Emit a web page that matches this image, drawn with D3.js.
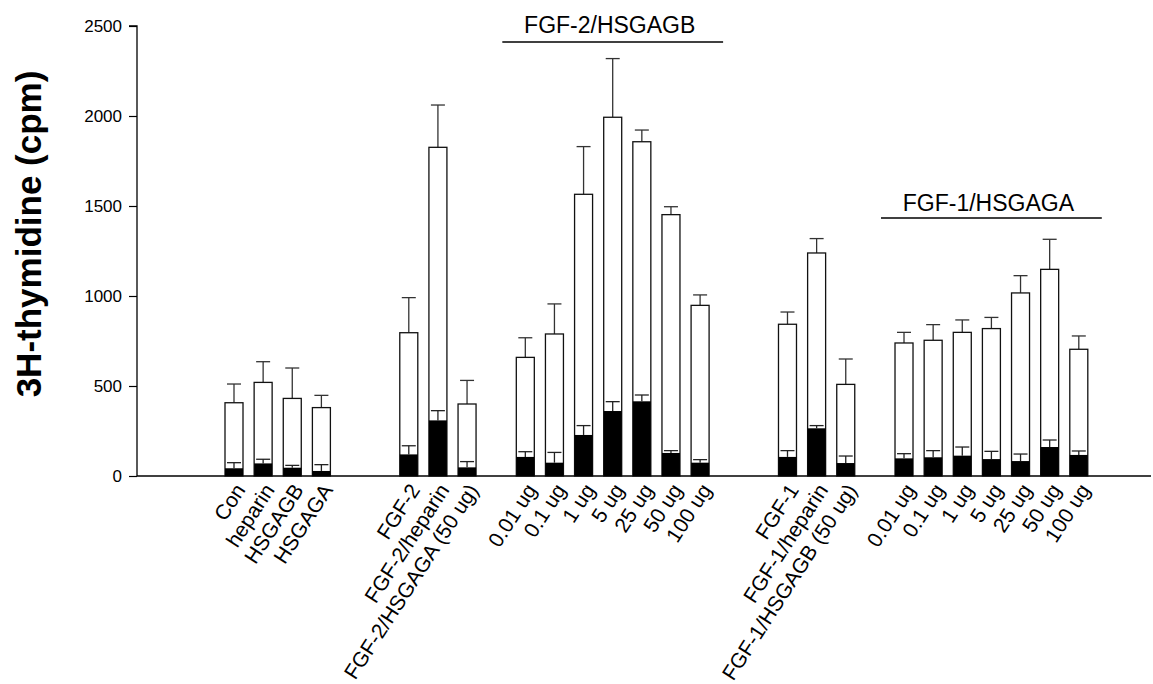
<!DOCTYPE html>
<html>
<head>
<meta charset="utf-8">
<script src="https://cdn.jsdelivr.net/npm/d3@7"></script>
<style>
  body { margin: 0; background: #fff; }
  svg text { font-family: "Liberation Sans", Arial, Helvetica, sans-serif; fill: #000; }
</style>
</head>
<body>
<svg id="chart" width="1153" height="684"></svg>
<script>
// categories and their slot on the x axis (empty slots are the gaps between groups)
const labels = ['Con', 'heparin', 'HSGAGB', 'HSGAGA',
  'FGF-2', 'FGF-2/heparin', 'FGF-2/HSGAGA (50 ug)',
  '0.01 ug', '0.1 ug', '1 ug', '5 ug', '25 ug', '50 ug', '100 ug',
  'FGF-1', 'FGF-1/heparin', 'FGF-1/HSGAGB (50 ug)',
  '0.01 ug', '0.1 ug', '1 ug', '5 ug', '25 ug', '50 ug', '100 ug']
const slots = [0, 1, 2, 3, 6, 7, 8, 10, 11, 12, 13, 14, 15, 16, 19, 20, 21, 23, 24, 25, 26, 27, 28, 29]

// open bars (mean + error) and filled bars (mean + error)
const whiteVals = [407, 520, 431, 380, 796, 1826, 400, 659, 789, 1565, 1993, 1857, 1452, 948,
  843, 1239, 509, 739, 754, 798, 819, 1017, 1148, 704]
const whiteErr = [511, 635, 600, 448, 991, 2061, 531, 768, 956, 1830, 2319, 1922, 1496, 1006,
  911, 1319, 650, 798, 841, 867, 881, 1113, 1315, 778]
const blackVals = [43, 70, 46, 28, 120, 309, 48, 106, 74, 228, 361, 415, 128, 74,
  106, 265, 72, 98, 104, 113, 94, 83, 161, 117]
const blackErr = [74, 93, 59, 63, 168, 363, 80, 135, 131, 280, 413, 450, 141, 91,
  141, 280, 111, 124, 141, 161, 137, 122, 200, 139]

const yTicks = [0, 500, 1000, 1500, 2000, 2500]
const groupTitles = [
  { text: 'FGF-2/HSGAGB', from: 10, to: 16, ty: 33, ly: 42 },
  { text: 'FGF-1/HSGAGA', from: 23, to: 29, ty: 211, ly: 218 }
]

const svg = d3.select('#chart')
const axisX = 137, y0 = 476, y1 = 26

const x = d3.scaleBand()
  .domain(d3.range(30))
  .range([225, 1087.8])
  .paddingInner(0.382)
  .paddingOuter(0)
  .align(0)

const y = d3.scaleLinear().domain([0, 2500]).range([y0, y1])

const rows = labels.map((l, i) => ({
  label: l, slot: slots[i],
  w: whiteVals[i], we: whiteErr[i], b: blackVals[i], be: blackErr[i]
}))

// y axis
const yAxis = svg.append('g')
  .attr('transform', `translate(${axisX},0)`)
  .call(d3.axisLeft(y).tickValues(yTicks).tickSize(8).tickPadding(7).tickFormat(d3.format('d')))
yAxis.select('.domain').attr('stroke', '#000').attr('stroke-width', 1.3).attr('d', `M-8,${y1}H0V${y0}`)
yAxis.selectAll('.tick line').attr('stroke', '#000').attr('stroke-width', 1.2)
yAxis.selectAll('.tick text').style('font-size', '17px').attr('fill', '#000')

// x axis line
svg.append('line')
  .attr('x1', axisX).attr('x2', 1151)
  .attr('y1', y0).attr('y2', y0)
  .attr('stroke', '#000').attr('stroke-width', 1.5)

const bw = x.bandwidth()
const cap = 14

const bars = svg.append('g').selectAll('g').data(rows).join('g')
  .attr('transform', d => `translate(${x(d.slot)},0)`)

// error whisker of the open bar
bars.append('line')
  .attr('x1', bw / 2).attr('x2', bw / 2)
  .attr('y1', d => y(d.w)).attr('y2', d => y(d.we))
  .attr('stroke', '#333').attr('stroke-width', 1.3)
bars.append('line')
  .attr('x1', bw / 2 - cap / 2).attr('x2', bw / 2 + cap / 2)
  .attr('y1', d => y(d.we)).attr('y2', d => y(d.we))
  .attr('stroke', '#333').attr('stroke-width', 1.3)

// open bar
bars.append('rect')
  .attr('x', 0).attr('width', bw)
  .attr('y', d => y(d.w)).attr('height', d => y0 - y(d.w))
  .attr('fill', '#fff').attr('stroke', '#111').attr('stroke-width', 1.3)

// filled bar
bars.append('rect')
  .attr('x', 0).attr('width', bw)
  .attr('y', d => y(d.b)).attr('height', d => y0 - y(d.b))
  .attr('fill', '#000')

// error whisker of the filled bar
bars.append('line')
  .attr('x1', bw / 2).attr('x2', bw / 2)
  .attr('y1', d => y(d.b)).attr('y2', d => y(d.be))
  .attr('stroke', '#222').attr('stroke-width', 1.3)
bars.append('line')
  .attr('x1', bw / 2 - cap / 2).attr('x2', bw / 2 + cap / 2)
  .attr('y1', d => y(d.be)).attr('y2', d => y(d.be))
  .attr('stroke', '#222').attr('stroke-width', 1.3)

// rotated category labels
svg.append('g').selectAll('text').data(rows).join('text')
  .attr('transform', d => `translate(${x(d.slot) + bw / 2 + 6},${y0 + 10}) rotate(-57)`)
  .attr('text-anchor', 'end')
  .attr('dy', '0.35em')
  .style('font-size', '21px')
  .text(d => d.label)

// group headers with rules
groupTitles.forEach(g => {
  const a = x(g.from) - 14, b = x(g.to) + bw + 14
  svg.append('line')
    .attr('x1', a).attr('x2', b)
    .attr('y1', g.ly).attr('y2', g.ly)
    .attr('stroke', '#000').attr('stroke-width', 1.3)
  svg.append('text')
    .attr('x', (a + b) / 2 - 3).attr('y', g.ty)
    .attr('text-anchor', 'middle')
    .style('font-size', '23px')
    .text(g.text)
})

// y axis title
svg.append('text')
  .attr('transform', `translate(41,234) rotate(-90)`)
  .attr('text-anchor', 'middle')
  .style('font-size', '35px').style('font-weight', 'bold')
  .text('3H-thymidine (cpm)')
</script>
</body>
</html>
